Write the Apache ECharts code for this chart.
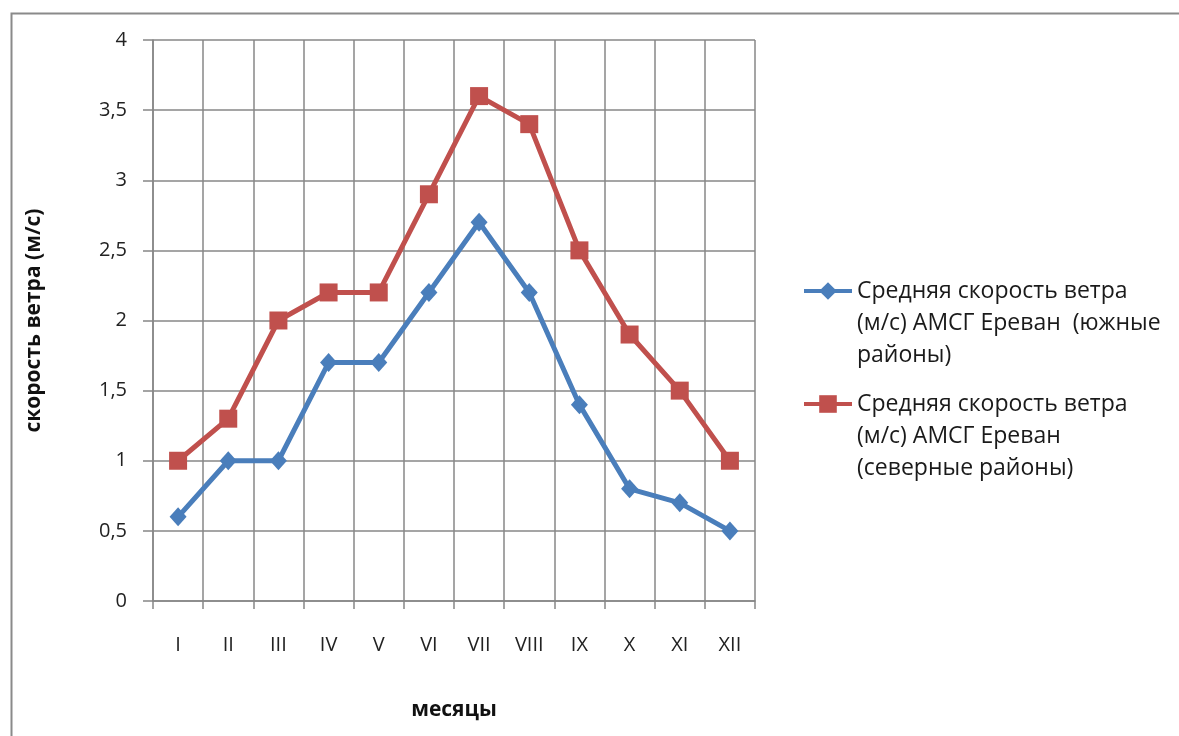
<!DOCTYPE html>
<html>
<head>
<meta charset="utf-8">
<script src="https://cdn.jsdelivr.net/npm/echarts@6/dist/echarts.min.js"></script>
<style>
html,body{margin:0;padding:0;background:#fff;}
#chart{width:1179px;height:736px;}
</style>
</head>
<body>
<div id="chart"></div>
<script>
const months = ['I','II','III','IV','V','VI','VII','VIII','IX','X','XI','XII'];
const southName = 'Средняя скорость ветра (м/с) АМСГ Ереван (южные районы)';
const northName = 'Средняя скорость ветра (м/с) АМСГ Ереван (северные районы)';
const southValues = [0.6, 1.0, 1.0, 1.7, 1.7, 2.2, 2.7, 2.2, 1.4, 0.8, 0.7, 0.5];
const northValues = [1.0, 1.3, 2.0, 2.2, 2.2, 2.9, 3.6, 3.4, 2.5, 1.9, 1.5, 1.0];
const legendLines = {};
legendLines[southName] = ' \n \nСредняя скорость ветра\n(м/с) АМСГ Ереван  (южные\nрайоны)';
legendLines[northName] = ' \n \nСредняя скорость ветра\n(м/с) АМСГ Ереван\n(северные районы)';

const FONT = '"Open Sans", sans-serif';
const gridColor = '#878787';
const blue = '#4A7EBB';
const red = '#C0504D';

const chart = echarts.init(document.getElementById('chart'));
const legendText = {
  fontFamily: FONT, fontSize: 23, color: '#1a1a1a', lineHeight: 32
};
const legendCommon = {
  orient: 'vertical', left: 797,
  itemWidth: 48, itemHeight: 22, itemGap: 10,
  lineStyle: {width: 4},
  formatter: n => legendLines[n], textStyle: legendText
};
chart.setOption({
  backgroundColor: '#fff',
  animation: false,
  graphic: [{
    type: 'rect', left: 9, top: 11,
    shape: {width: 1300, height: 900},
    style: {fill: 'none', stroke: '#8a8a8a', lineWidth: 2}
  }],
  grid: {left: 153, right: 424, top: 40, bottom: 135, containLabel: false},
  legend: [
    Object.assign({data: [southName], top: 206}, legendCommon),
    Object.assign({data: [northName], top: 319}, legendCommon)
  ],
  xAxis: {
    type: 'category', data: months, boundaryGap: true,
    name: 'месяцы', nameLocation: 'middle', nameGap: 99,
    nameTextStyle: {fontFamily: FONT, fontSize: 21, fontWeight: 'bold', color: '#111'},
    axisLine: {lineStyle: {color: gridColor, width: 1.5}},
    axisTick: {show: true, length: 8, interval: 0, lineStyle: {color: gridColor, width: 1.5}},
    axisLabel: {interval: 0, margin: 34, fontFamily: FONT, fontSize: 20, color: '#222'},
    splitLine: {show: true, interval: 0, lineStyle: {color: gridColor, width: 1.5}}
  },
  yAxis: {
    type: 'value', min: 0, max: 4, interval: 0.5,
    name: 'скорость ветра (м/с)', nameLocation: 'middle', nameGap: 108, nameRotate: 90,
    nameTextStyle: {fontFamily: FONT, fontSize: 21, fontWeight: 'bold', color: '#111'},
    axisLine: {show: true, lineStyle: {color: gridColor, width: 1.5}},
    axisTick: {show: true, length: 10, lineStyle: {color: gridColor, width: 1.5}},
    axisLabel: {margin: 26, fontFamily: FONT, fontSize: 20, color: '#222',
      formatter: v => String(v).replace('.', ',')},
    splitLine: {show: true, lineStyle: {color: gridColor, width: 1.5}}
  },
  series: [{
    name: southName, type: 'line', data: southValues,
    symbol: 'diamond', symbolSize: [17, 19],
    lineStyle: {color: blue, width: 5},
    itemStyle: {color: blue}
  }, {
    name: northName, type: 'line', data: northValues,
    symbol: 'rect', symbolSize: 18,
    lineStyle: {color: red, width: 5},
    itemStyle: {color: red}
  }]
});
</script>
</body>
</html>
